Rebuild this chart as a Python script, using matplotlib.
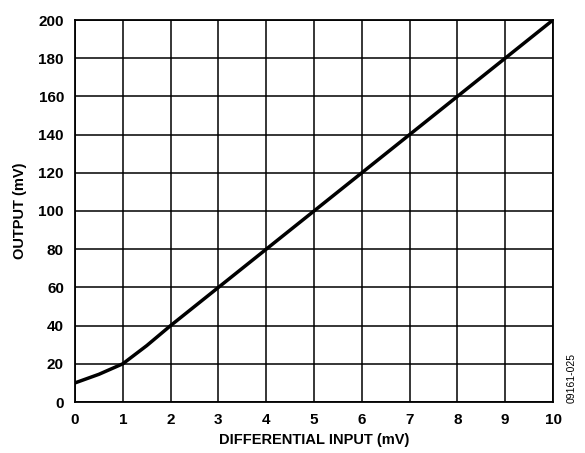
import numpy as np
import matplotlib.pyplot as plt

plt.rcParams['font.family'] = 'Liberation Sans'
plt.rcParams['font.weight'] = 'bold'

# data
x_in = [0, 0.5, 1, 1.5, 2, 3, 4, 5, 6, 7, 8, 9, 10]
y_out = [10, 14.5, 20, 29.5, 40, 60, 80, 100, 120, 140, 160, 180, 200]

fig = plt.figure(figsize=(5.85, 4.53), dpi=100)
ax = fig.add_axes([75 / 585, 1 - 402 / 453, (553 - 75) / 585, (402 - 20) / 453])

ax.plot(x_in, y_out, color='black', linewidth=2.5, solid_joinstyle='round')

ax.set_xlim(0, 10)
ax.set_ylim(0, 200)
ax.set_xticks(np.arange(0, 11, 1))
ax.set_yticks(np.arange(0, 201, 20))
ax.grid(True, color='black', linewidth=1.1)
ax.tick_params(length=0, labelsize=11, pad=8)
for s in ax.spines.values():
    s.set_linewidth(1.3)

ax.set_xlabel('DIFFERENTIAL INPUT (mV)', fontsize=10.5, fontweight='bold', labelpad=4)
ax.set_ylabel('OUTPUT (mV)', fontsize=10.5, fontweight='bold', labelpad=8)

fig.text(572 / 585, 1 - 378 / 453, '09161-025', rotation=90, fontsize=7.5,
         fontweight='normal', ha='center', va='center')

fig.savefig('out.png', dpi=100)
